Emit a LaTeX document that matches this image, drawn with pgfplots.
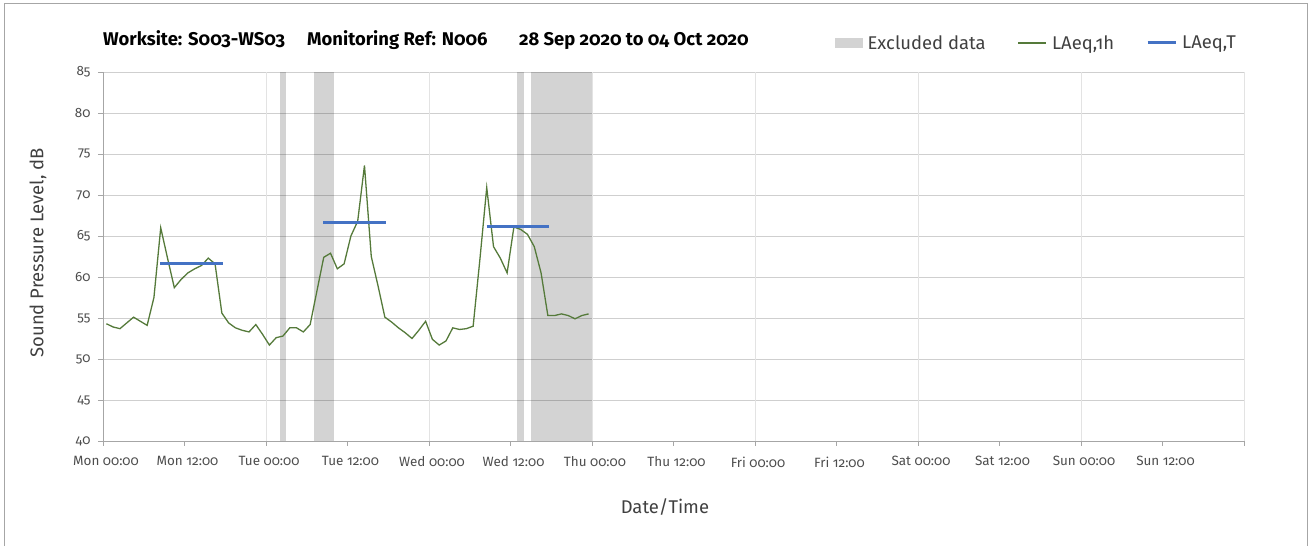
\documentclass[border=0pt]{standalone}
\usepackage{pgfplots}
\pgfplotsset{compat=1.18}
\usepackage{fontspec}
\setmainfont{Fira Sans}[Numbers=OldStyle]
\definecolor{exclgray}{HTML}{D3D3D3}
\definecolor{lgreen}{HTML}{557A3A}
\definecolor{lblue}{HTML}{4472C4}
\definecolor{gridgray}{HTML}{CFCFCF}
\definecolor{daygray}{HTML}{E3E3E3}
\definecolor{axgray}{HTML}{A6A6A6}
\definecolor{txtgray}{HTML}{404040}
\definecolor{ticktxt}{HTML}{4D4D4D}

\pgfplotstableread{
h dB
0.5 54.3
1.5 53.9
2.5 53.7
3.5 54.4
4.5 55.1
5.5 54.6
6.5 54.1
7.5 57.5
8.5 66.0
9.5 62.3
10.5 58.7
11.5 59.7
12.5 60.5
13.5 61.0
14.5 61.4
15.5 62.3
16.5 61.6
17.5 55.6
18.5 54.4
19.5 53.8
20.5 53.5
21.5 53.3
22.5 54.2
23.5 53.0
24.5 51.7
25.5 52.6
26.5 52.8
27.5 53.8
28.5 53.8
29.5 53.3
30.5 54.2
31.5 58.3
32.5 62.4
33.5 62.9
34.5 61.0
35.5 61.6
36.5 65.0
37.5 66.8
38.5 73.6
39.5 62.5
40.5 58.9
41.5 55.1
42.5 54.5
43.5 53.8
44.5 53.2
45.5 52.5
46.5 53.5
47.5 54.6
48.5 52.4
49.5 51.7
50.5 52.2
51.5 53.8
52.5 53.6
53.5 53.7
54.5 54.0
55.5 62.2
56.5 70.9
57.5 63.7
58.5 62.3
59.5 60.5
60.5 66.1
61.5 65.8
62.5 65.2
63.5 63.7
64.5 60.5
65.5 55.3
66.5 55.3
67.5 55.5
68.5 55.3
69.5 54.9
70.5 55.3
71.5 55.5
}\laeqh

\begin{document}
\begin{tikzpicture}
\draw[color=axgray, line width=0.8bp] (4.5bp,0bp) -- (4.5bp,543bp) -- (1307.5bp,543bp) -- (1307.5bp,0bp);
\node[anchor=base west, font=\bfseries\fontsize{18.5}{22}\selectfont, inner sep=0pt] at (103bp,500bp) {Worksite: S003-WS03};
\node[anchor=base west, font=\bfseries\fontsize{18.5}{22}\selectfont, inner sep=0pt] at (307bp,500bp) {Monitoring Ref: N006};
\node[anchor=base west, font=\bfseries\fontsize{18.5}{22}\selectfont, inner sep=0pt] at (519bp,500bp) {28 Sep 2020 to 04 Oct 2020};
\begin{axis}[
  scale only axis, width=1141bp, height=369bp,
  at={(103bp,105bp)}, anchor=south west,
  xmin=0, xmax=168, ymin=40, ymax=85,
  xtick={0,12,...,168},
  xticklabels={Mon 00:00,Mon 12:00,Tue 00:00,Tue 12:00,Wed 00:00,Wed 12:00,Thu 00:00,Thu 12:00,Fri 00:00,Fri 12:00,Sat 00:00,Sat 12:00,Sun 00:00,Sun 12:00,{}},
  ytick={40,45,...,85},
  yticklabels={40,45,50,55,60,65,70,75,80,85},
  ymajorgrids, major grid style={gridgray, line width=0.8bp},
  extra x ticks={24,48,...,168},
  extra x tick labels={},
  extra x tick style={xmajorgrids=true, major grid style={daygray, line width=0.8bp}, major tick length=0pt},
  axis x line*=bottom, axis y line*=left,
  axis line style={axgray, line width=0.8bp, -},
  tick style={axgray, line width=0.8bp},
  tick align=outside, major tick length=5bp,
  x tick label style={font=\fontsize{13.5}{16}\selectfont, text=ticktxt, yshift=-7bp, xshift=3bp},
  y tick label style={font=\fontsize{13.5}{16}\selectfont, text=ticktxt, xshift=-4bp},
  xlabel={Date/Time}, ylabel={Sound Pressure Level, dB},
  xlabel style={at={(axis description cs:0.4925,-0.179)}, anchor=center, font=\fontsize{18.5}{22}\selectfont, text=txtgray},
  ylabel style={at={(axis description cs:-0.057,0.51)}, anchor=center, font=\fontsize{18.5}{22}\selectfont, text=txtgray},
  legend style={draw=none, fill=none, legend columns=3, at={(0.641,1.0786)}, anchor=west, inner sep=0pt,
    font=\fontsize{18.5}{22}\selectfont, text=txtgray,
    /tikz/every even column/.append style={column sep=30bp},
    /tikz/column 1/.style={column sep=3bp},
    /tikz/column 2/.style={column sep=33bp},
    /tikz/column 3/.style={column sep=3bp},
    /tikz/column 4/.style={column sep=52bp},
    /tikz/column 5/.style={column sep=3bp}},
  legend cell align=left,
]
\addplot[fill=black, fill opacity=0.173, draw=none,
  legend image code/.code={\fill[exclgray, fill opacity=1] (0bp,-5bp) rectangle (28bp,5bp);}]
  coordinates {(26,40) (26,85) (27,85) (27,40)};
\addplot[fill=black, fill opacity=0.173, draw=none, forget plot]
  coordinates {(31.1,40) (31.1,85) (34,85) (34,40)};
\addplot[fill=black, fill opacity=0.173, draw=none, forget plot]
  coordinates {(61,40) (61,85) (62,85) (62,40)};
\addplot[fill=black, fill opacity=0.173, draw=none, forget plot]
  coordinates {(63,40) (63,85) (72,85) (72,40)};
\addplot[lgreen, line width=1.3bp, no markers,
  legend image code/.code={\draw[lgreen, line width=1.3bp] (0bp,0bp) -- (28bp,0bp);}] table[x=h, y=dB] {\laeqh};
\addplot[lblue, line width=3bp, no markers,
  legend image code/.code={\draw[lblue, line width=3bp] (0bp,0bp) -- (28bp,0bp);}] coordinates {(8.4,61.6) (17.6,61.6)};
\addplot[lblue, line width=3bp, no markers, forget plot] coordinates {(32.45,66.6) (41.6,66.6)};
\addplot[lblue, line width=3bp, no markers, forget plot] coordinates {(56.5,66.1) (65.7,66.1)};
\legend{Excluded data, {LAeq,1h}, {LAeq,T}}
\end{axis}
\useasboundingbox (0bp,0bp) rectangle (1314bp,546bp);
\end{tikzpicture}
\end{document}
